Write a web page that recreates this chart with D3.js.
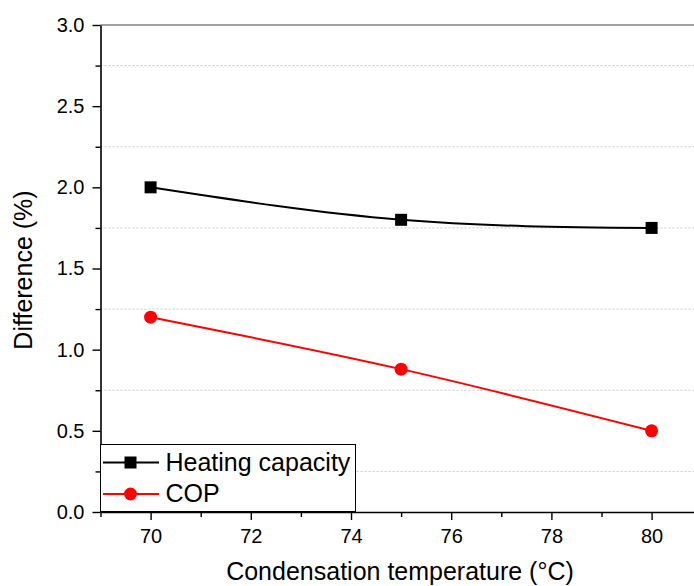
<!DOCTYPE html>
<html>
<head>
<meta charset="utf-8">
<script src="https://cdn.jsdelivr.net/npm/d3@7"></script>
<style>
  html, body { margin: 0; padding: 0; background: #fff; }
  svg { display: block; font-family: "Liberation Sans", Arial, sans-serif; }
</style>
</head>
<body>
<svg id="chart" width="694" height="586"></svg>
<script>
// Condensation temperature (°C)
const temperatures = [70, 75, 80];
// Relative difference (%) for each series
const heatingCapacity = [2.0, 1.8, 1.75];
const cop = [1.2, 0.88, 0.5];

const xMajorTicks = [70, 72, 74, 76, 78, 80];
const xMinorTicks = [69, 71, 73, 75, 77, 79, 81];
const yMajorTicks = [0.0, 0.5, 1.0, 1.5, 2.0, 2.5, 3.0];
const yMinorTicks = [0.25, 0.75, 1.25, 1.75, 2.25, 2.75];

const svg = d3.select("#chart");

const x = d3.scaleLinear().domain([69, 81]).range([100.5, 701.7]);
const y = d3.scaleLinear().domain([0, 3]).range([512, 25]);

const plotLeft = 100.5, plotRight = 694, plotTop = 25, plotBottom = 512;
const tickFont = 20, titleFont = 25;

// dotted grid at minor y positions
svg.append("g").selectAll("line").data(yMinorTicks).join("line")
  .attr("x1", plotLeft).attr("x2", plotRight)
  .attr("y1", d => y(d)).attr("y2", d => y(d))
  .attr("stroke", "#c8c8c8").attr("stroke-width", 1)
  .attr("stroke-dasharray", "2,2");

// top frame line
svg.append("line")
  .attr("x1", plotLeft).attr("x2", plotRight).attr("y1", plotTop).attr("y2", plotTop)
  .attr("stroke", "#808080").attr("stroke-width", 1.6);

// y axis
const yAxis = svg.append("g").attr("transform", `translate(${plotLeft},0)`)
  .call(d3.axisLeft(y).tickValues(yMajorTicks).tickFormat(d3.format(".1f"))
    .tickSizeInner(8).tickSizeOuter(0).tickPadding(8));
yAxis.select(".domain").attr("stroke", "#000").attr("stroke-width", 1.6);
yAxis.selectAll(".tick line").attr("stroke-width", 1.4);
yAxis.selectAll("text").attr("font-size", tickFont).attr("fill", "#000")
  .attr("font-family", "Liberation Sans, Arial, sans-serif");
svg.append("g").attr("transform", `translate(${plotLeft},0)`)
  .call(d3.axisLeft(y).tickValues(yMinorTicks).tickFormat("").tickSizeInner(5).tickSizeOuter(0))
  .call(g => g.select(".domain").remove())
  .selectAll(".tick line").attr("stroke-width", 1.4);

// x axis
const xAxis = svg.append("g").attr("transform", `translate(0,${plotBottom})`)
  .call(d3.axisBottom(x).tickValues(xMajorTicks).tickFormat(d3.format("d"))
    .tickSizeInner(8).tickSizeOuter(0).tickPadding(9));
xAxis.select(".domain").attr("stroke", "#000").attr("stroke-width", 1.6);
xAxis.selectAll(".tick line").attr("stroke-width", 1.4);
xAxis.selectAll("text").attr("font-size", tickFont).attr("fill", "#000")
  .attr("font-family", "Liberation Sans, Arial, sans-serif");
svg.append("g").attr("transform", `translate(0,${plotBottom})`)
  .call(d3.axisBottom(x).tickValues(xMinorTicks).tickFormat("").tickSizeInner(5).tickSizeOuter(0))
  .call(g => g.select(".domain").remove())
  .selectAll(".tick line").attr("stroke-width", 1.4);

// axis titles
svg.append("text")
  .attr("x", 400).attr("y", 580)
  .attr("text-anchor", "middle").attr("font-size", titleFont).attr("fill", "#000")
  .text("Condensation temperature (°C)");
svg.append("text")
  .attr("transform", "translate(32,270) rotate(-90)")
  .attr("text-anchor", "middle").attr("font-size", titleFont).attr("fill", "#000")
  .text("Difference (%)");

// series
const line = d3.line().x(d => x(d[0])).y(d => y(d[1])).curve(d3.curveNatural);

const seriesList = [
  { name: "Heating capacity", values: heatingCapacity, color: "#000000", marker: "square" },
  { name: "COP", values: cop, color: "#ff0000", marker: "circle" }
];

function drawMarker(g, type, cx, cy, color) {
  if (type === "square") {
    g.append("rect").attr("x", cx - 6).attr("y", cy - 6)
      .attr("width", 12).attr("height", 12).attr("fill", color);
  } else {
    g.append("circle").attr("cx", cx).attr("cy", cy).attr("r", 6.5).attr("fill", color);
  }
}

seriesList.forEach(s => {
  const pts = temperatures.map((t, i) => [t, s.values[i]]);
  svg.append("path").datum(pts).attr("d", line)
    .attr("fill", "none").attr("stroke", s.color).attr("stroke-width", 2);
  const g = svg.append("g");
  pts.forEach(p => drawMarker(g, s.marker, x(p[0]), y(p[1]), s.color));
});

// legend
const legend = svg.append("g");
legend.append("rect")
  .attr("x", plotLeft).attr("y", 444.5).attr("width", 255).attr("height", 67)
  .attr("fill", "#fff").attr("stroke", "#000").attr("stroke-width", 1);
seriesList.forEach((s, i) => {
  const ly = 462.5 + i * 31.5;
  legend.append("line").attr("x1", 103).attr("x2", 159).attr("y1", ly).attr("y2", ly)
    .attr("stroke", s.color).attr("stroke-width", 2);
  drawMarker(legend, s.marker, 130.5, ly, s.color);
  legend.append("text").attr("x", 165.5).attr("y", ly + 8)
    .attr("font-size", titleFont).attr("fill", "#000").text(s.name);
});
</script>
</body>
</html>
